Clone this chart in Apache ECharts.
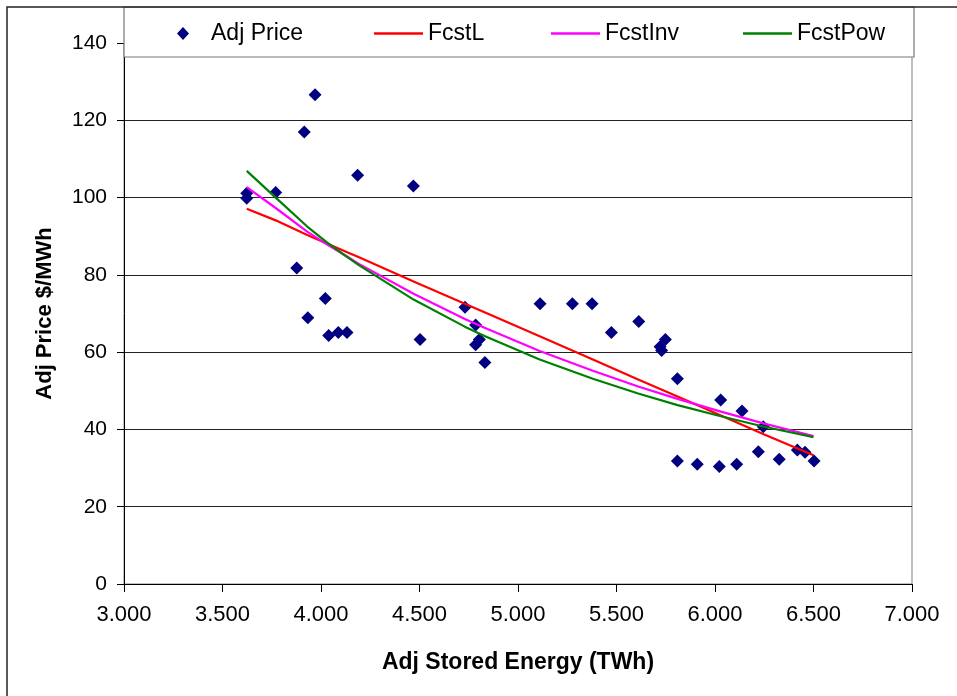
<!DOCTYPE html>
<html>
<head>
<meta charset="utf-8">
<script src="https://cdn.jsdelivr.net/npm/echarts@6/dist/echarts.min.js"></script>
<style>
html,body{margin:0;padding:0;background:#fff;}
#chart{width:957px;height:696px;}
</style>
</head>
<body>
<div id="chart"></div>
<script>
// Scatter data: Adj Stored Energy (TWh) vs Adj Price $/MWh
var energyX = [3.623, 3.623, 3.770, 3.915, 3.970, 3.877, 3.933, 4.022, 4.039, 4.088,
               4.132, 4.186, 4.469, 4.503, 4.731, 4.785, 4.804, 4.785, 4.832, 5.112,
               5.276, 5.376, 5.474, 5.613, 5.748, 5.721, 5.729, 5.809, 6.029, 6.137,
               6.245, 5.809, 5.910, 6.022, 6.110, 6.220, 6.326, 6.418, 6.457, 6.503];
var priceY  = [101.1, 99.8, 101.3, 117.0, 126.6, 81.8, 68.9, 73.9, 64.3, 65.1,
               65.1, 105.8, 103.0, 63.3, 71.6, 67.0, 63.3, 61.9, 57.3, 72.5,
               72.5, 72.5, 65.1, 67.9, 63.3, 61.4, 60.4, 53.1, 47.6, 44.8,
               40.7, 31.8, 31.0, 30.4, 31.0, 34.2, 32.3, 34.7, 34.1, 31.8];

// Forecast curves, read at these energy values
var fcstX   = [3.623, 3.77, 3.93, 4.03, 4.13, 4.19, 4.47, 4.73, 4.83, 5.11, 5.38, 5.61, 5.81, 6.03, 6.25, 6.50];
var fcstL   = [97.1, 94.1, 90.3, 88.1, 85.9, 84.6, 78.3, 72.5, 70.3, 64.1, 58.1, 52.9, 48.5, 43.6, 38.7, 33.3];
var fcstInv = [102.7, 97.3, 91.2, 87.9, 84.8, 82.9, 75.1, 68.6, 66.3, 60.3, 55.2, 51.1, 47.9, 44.6, 41.5, 38.3];
var fcstPow = [106.9, 100.0, 92.5, 88.4, 84.7, 82.6, 73.6, 66.6, 64.2, 58.1, 53.1, 49.3, 46.3, 43.4, 40.7, 38.0];

var xTicks = {min: 3, max: 7, step: 0.5};
var yTicks = {min: 0, max: 140, step: 20};

function zip(a, b) { return a.map(function (v, i) { return [v, b[i]]; }); }

var FONT = 'Liberation Sans';
var chart = echarts.init(document.getElementById('chart'), null, {renderer: 'canvas'});

function legendItem(name, left, icon, w, h, padLeft) {
  return {
    left: left, top: 22, orient: 'horizontal', padding: 0,
    itemWidth: w, itemHeight: h, itemGap: 0,
    textStyle: {fontFamily: FONT, fontSize: 23, color: '#000', padding: [0, 0, 0, padLeft]},
    data: [{name: name, icon: icon}],
    selectedMode: false, z: 20
  };
}

var LINE_ICON = 'path://M0,0L49,0L49,2.5L0,2.5Z';

chart.setOption({
  animation: false,
  backgroundColor: '#fff',
  grid: {left: 124, right: 45, top: 43, bottom: 112, show: true,
         borderColor: '#808080', borderWidth: 1, backgroundColor: 'transparent'},
  graphic: [
    {type: 'rect', z: 100, shape: {x: 7, y: 7, width: 1000, height: 1000},
     style: {fill: 'none', stroke: '#222', lineWidth: 1.5}, silent: true},
    {type: 'rect', z: 5, zlevel: 0, shape: {x: 124, y: 7, width: 790, height: 50},
     style: {fill: '#fff', stroke: '#777', lineWidth: 1.2}, silent: true}
  ],
  legend: [
    legendItem('Adj Price', 177, 'path://M6,0L12,6.5L6,13L0,6.5Z', 12, 13, 17),
    legendItem('FcstL', 374, LINE_ICON, 49, 3, 0),
    legendItem('FcstInv', 551, LINE_ICON, 49, 3, 0),
    legendItem('FcstPow', 743, LINE_ICON, 49, 3, 0)
  ],
  xAxis: {
    type: 'value', min: xTicks.min, max: xTicks.max, interval: xTicks.step,
    name: 'Adj Stored Energy (TWh)', nameLocation: 'middle', nameGap: 67,
    nameTextStyle: {fontFamily: FONT, fontSize: 23, fontWeight: 'bold', color: '#000'},
    axisLine: {show: true, onZero: false, lineStyle: {color: '#000', width: 1}},
    axisTick: {show: true, inside: false, length: 8, lineStyle: {color: '#000'}},
    axisLabel: {fontFamily: FONT, fontSize: 22, color: '#000', margin: 20,
                formatter: function (v) { return v.toFixed(3); }},
    splitLine: {show: false}
  },
  yAxis: {
    type: 'value', min: yTicks.min, max: yTicks.max, interval: yTicks.step,
    name: 'Adj Price $/MWh', nameLocation: 'middle', nameGap: 68, nameRotate: 90,
    nameTextStyle: {fontFamily: FONT, fontSize: 22, fontWeight: 'bold', color: '#000'},
    axisLine: {show: true, lineStyle: {color: '#000', width: 1}},
    axisTick: {show: true, inside: false, length: 7, lineStyle: {color: '#000'}},
    axisLabel: {fontFamily: FONT, fontSize: 21, color: '#000', margin: 17},
    splitLine: {show: true, lineStyle: {color: '#222', width: 1}}
  },
  series: [
    {name: 'Adj Price', type: 'scatter', data: zip(energyX, priceY),
     symbol: 'diamond', symbolSize: [13, 13], itemStyle: {color: '#000080', opacity: 1}, z: 3},
    {name: 'FcstL', type: 'line', data: zip(fcstX, fcstL), symbol: 'none',
     lineStyle: {color: '#FF0000', width: 2.2}, itemStyle: {color: '#FF0000'}, z: 4},
    {name: 'FcstInv', type: 'line', data: zip(fcstX, fcstInv), symbol: 'none',
     lineStyle: {color: '#FF00FF', width: 2.2}, itemStyle: {color: '#FF00FF'}, z: 4},
    {name: 'FcstPow', type: 'line', data: zip(fcstX, fcstPow), symbol: 'none',
     lineStyle: {color: '#008000', width: 2.2}, itemStyle: {color: '#008000'}, z: 4}
  ]
});
</script>
</body>
</html>
